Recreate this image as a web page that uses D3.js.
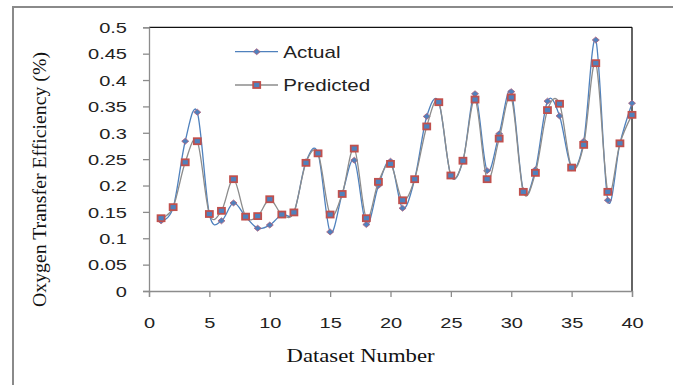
<!DOCTYPE html>
<html><head><meta charset="utf-8">
<script src="https://cdn.jsdelivr.net/npm/d3@7"></script>
<style>html,body{margin:0;padding:0;background:#fff;}svg{display:block;}</style>
</head><body>
<svg id="chart" width="673" height="385"></svg>
<script>
const datasetNumbers = d3.range(1, 41);
const actual = [0.133,0.158,0.284,0.339,0.146,0.133,0.167,0.141,0.119,0.125,0.145,0.149,0.245,0.261,0.112,0.184,0.248,0.126,0.200,0.246,0.157,0.212,0.331,0.358,0.219,0.247,0.374,0.228,0.298,0.378,0.190,0.230,0.360,0.332,0.234,0.284,0.476,0.172,0.280,0.356];
const predicted = [0.138,0.159,0.244,0.284,0.146,0.152,0.212,0.141,0.142,0.174,0.145,0.149,0.243,0.261,0.145,0.184,0.270,0.138,0.207,0.241,0.172,0.212,0.312,0.358,0.219,0.247,0.363,0.212,0.289,0.367,0.188,0.224,0.343,0.355,0.234,0.277,0.432,0.188,0.280,0.334];
const xTicks = [0,5,10,15,20,25,30,35,40];
const yTicks = [0,0.05,0.1,0.15,0.2,0.25,0.3,0.35,0.4,0.45,0.5];
const seriesNames = ["Actual","Predicted"];

const svg = d3.select("#chart");
const L = 149, R = 632, T = 27.3, B = 291;
const x = d3.scaleLinear().domain([0,40]).range([L,R]);
const y = d3.scaleLinear().domain([0,0.5]).range([B,T]);

function stretch(sel, f){ sel.each(function(){ const w=this.getComputedTextLength(); this.setAttribute("textLength", w*f); this.setAttribute("lengthAdjust","spacingAndGlyphs"); }); }

// outer frame
svg.append("line").attr("x1",13).attr("x2",673).attr("y1",7).attr("y2",7).attr("stroke","#8a8a8a").attr("stroke-width",2);
svg.append("line").attr("x1",13).attr("x2",13).attr("y1",6).attr("y2",385).attr("stroke","#8a8a8a").attr("stroke-width",2);

// plot border top/right
svg.append("line").attr("x1",L).attr("x2",R).attr("y1",T).attr("y2",T).attr("stroke","#111").attr("stroke-width",1.3);
svg.append("line").attr("x1",R).attr("x2",R).attr("y1",T).attr("y2",B).attr("stroke","#111").attr("stroke-width",1.3);

// axes
const gx = svg.append("g").attr("transform",`translate(0,${B})`)
  .call(d3.axisBottom(x).tickValues(xTicks).tickSize(6).tickFormat(d3.format("d")));
const gy = svg.append("g").attr("transform",`translate(${L},0)`)
  .call(d3.axisLeft(y).tickValues(yTicks).tickSize(6).tickFormat(d=>String(+d.toFixed(2))));
[gx,gy].forEach(g=>{
  g.select(".domain").attr("stroke","#8c8c8c").attr("stroke-width",1.3);
  g.selectAll(".tick line").attr("stroke","#8c8c8c").attr("stroke-width",1.3);
  g.selectAll("text").attr("fill","#222").style("font-family","Liberation Sans, Arial, sans-serif").style("font-size","14.5px");
});
gx.selectAll("text").attr("dy",null).attr("y",37);
gy.selectAll("text").attr("dy","0.36em").attr("x",-22);
stretch(gx.selectAll("text"),1.38);
stretch(gy.selectAll("text"),1.38);

// lines
const line = d3.line().x((d,i)=>x(datasetNumbers[i])).y(d=>y(d)).curve(d3.curveCatmullRom.alpha(0));
svg.append("path").datum(actual).attr("d",line).attr("fill","none").attr("stroke","#4F81BD").attr("stroke-width",1.3);
svg.append("g").selectAll("path").data(actual).join("path")
  .attr("transform",(d,i)=>`translate(${x(datasetNumbers[i])},${y(d)})`)
  .attr("d","M0,-3 L3.5,0 L0,3 L-3.5,0 Z").attr("fill","#4F81BD").attr("stroke","#B0607A").attr("stroke-width",0.8);
svg.append("path").datum(predicted).attr("d",line).attr("fill","none").attr("stroke","#8c8c8c").attr("stroke-width",1.3);
svg.append("g").selectAll("rect").data(predicted).join("rect")
  .attr("x",(d,i)=>x(datasetNumbers[i])-3.5).attr("y",d=>y(d)-3).attr("width",7).attr("height",6)
  .attr("fill","#4F81BD").attr("stroke","#C0504D").attr("stroke-width",1.8);

// legend
const leg = svg.append("g");
const lg = [{name:seriesNames[0],y:51.7},{name:seriesNames[1],y:85}];
leg.append("line").attr("x1",235).attr("x2",278).attr("y1",lg[0].y).attr("y2",lg[0].y).attr("stroke","#4F81BD").attr("stroke-width",1.3);
leg.append("path").attr("transform",`translate(256.7,${lg[0].y})`).attr("d","M0,-3 L3.5,0 L0,3 L-3.5,0 Z").attr("fill","#4F81BD").attr("stroke","#B0607A").attr("stroke-width",0.8);
leg.append("line").attr("x1",235).attr("x2",278).attr("y1",lg[1].y).attr("y2",lg[1].y).attr("stroke","#8c8c8c").attr("stroke-width",1.3);
leg.append("rect").attr("x",253.2).attr("y",lg[1].y-3).attr("width",7).attr("height",6).attr("fill","#4F81BD").attr("stroke","#C0504D").attr("stroke-width",1.8);
const lt = leg.selectAll("text").data(lg).join("text").attr("x",283.3).attr("y",d=>d.y+5.8)
  .text(d=>d.name).attr("fill","#222").style("font-family","Liberation Sans, Arial, sans-serif").style("font-size","17px");
stretch(lt,1.21);

// axis titles
svg.append("text").attr("x",360.5).attr("y",362).attr("text-anchor","middle")
  .style("font-family","Liberation Serif, Times New Roman, serif").style("font-size","19px").attr("fill","#111")
  .attr("textLength",148).attr("lengthAdjust","spacingAndGlyphs").text("Dataset Number");
svg.append("text").attr("transform","translate(46,179.5) rotate(-90)").attr("text-anchor","middle")
  .style("font-family","Liberation Serif, Times New Roman, serif").style("font-size","18px").attr("fill","#111")
  .attr("textLength",255).attr("lengthAdjust","spacingAndGlyphs").text("Oxygen Transfer Efficiency (%)");
</script>
</body></html>
